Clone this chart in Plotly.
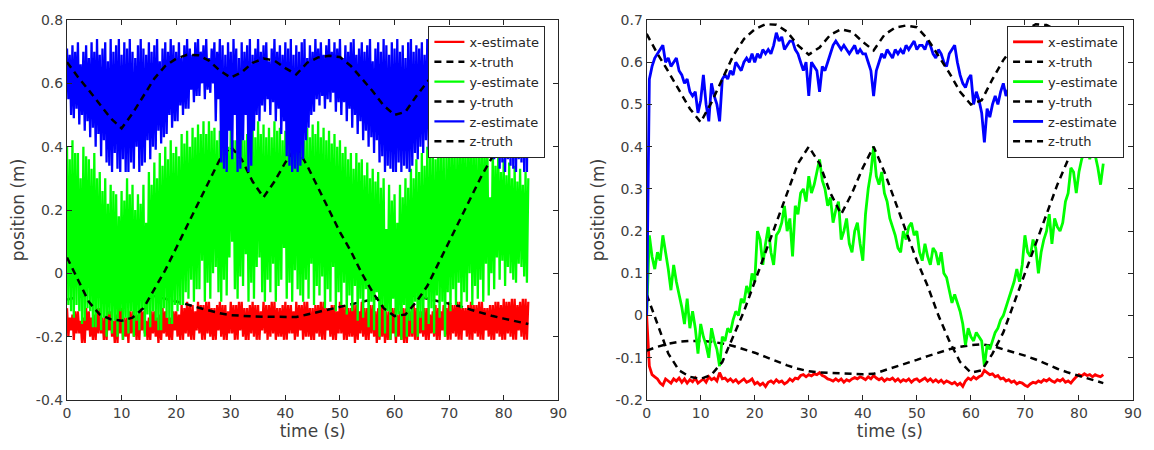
import plotly.graph_objects as go

# ---------------- data ----------------
# left panel estimates: peaks (at t = 0, 0.5, ..., 84.5 s) and troughs (at t = 0.25, 0.75, ..., 84.25 s)
noisy_step = 0.25
est_step = 0.5
n_est = 170

# truth sample times (s)
truth_t = list(range(0, 85, 2)) + [84.5]

x_truth = [-0.083, -0.074, -0.067, -0.062, -0.060, -0.060, -0.062, -0.066, -0.072, -0.080,
           -0.088, -0.098, -0.108, -0.118, -0.126, -0.132, -0.135, -0.136, -0.137, -0.138,
           -0.139, -0.138, -0.130, -0.122, -0.113, -0.105, -0.096, -0.088, -0.080, -0.074,
           -0.070, -0.068, -0.072, -0.080, -0.087, -0.095, -0.104, -0.115, -0.126, -0.135,
           -0.143, -0.150, -0.158, -0.160]
y_truth = [0.05, -0.02, -0.09, -0.13, -0.145, -0.15, -0.14, -0.11, -0.05, 0.01,
           0.08, 0.15, 0.22, 0.29, 0.36, 0.40, 0.36, 0.29, 0.24, 0.29,
           0.35, 0.40, 0.34, 0.27, 0.20, 0.13, 0.07, 0.00, -0.06, -0.11,
           -0.135, -0.13, -0.09, -0.04, 0.03, 0.10, 0.17, 0.24, 0.31, 0.37,
           0.42, 0.46, 0.49, 0.50]
z_truth = [0.667, 0.62, 0.578, 0.535, 0.49, 0.458, 0.505, 0.56, 0.615, 0.655,
           0.678, 0.69, 0.689, 0.672, 0.64, 0.618, 0.635, 0.665, 0.678, 0.672,
           0.648, 0.628, 0.665, 0.682, 0.687, 0.683, 0.655, 0.615, 0.575, 0.53,
           0.50, 0.51, 0.56, 0.605, 0.64, 0.675, 0.69, 0.688, 0.675, 0.655,
           0.63, 0.61, 0.60, 0.60]

x_left_peaks = [
    -0.11, -0.14, -0.13, -0.12, -0.12, -0.15, -0.14, -0.11, -0.12, -0.14,
    -0.13, -0.11, -0.11, -0.14, -0.14, -0.12, -0.12, -0.15, -0.13, -0.11,
    -0.11, -0.14, -0.14, -0.12, -0.12, -0.13, -0.13, -0.11, -0.12, -0.15,
    -0.14, -0.12, -0.12, -0.14, -0.13, -0.11, -0.12, -0.14, -0.14, -0.12,
    -0.12, -0.13, -0.10, -0.11, -0.09, -0.10, -0.10, -0.12, -0.09, -0.10,
    -0.10, -0.09, -0.09, -0.11, -0.11, -0.10, -0.09, -0.10, -0.10, -0.12,
    -0.09, -0.10, -0.10, -0.09, -0.09, -0.11, -0.11, -0.10, -0.09, -0.10,
    -0.10, -0.12, -0.09, -0.10, -0.10, -0.09, -0.09, -0.11, -0.11, -0.10,
    -0.09, -0.10, -0.10, -0.12, -0.09, -0.10, -0.10, -0.09, -0.09, -0.11,
    -0.11, -0.10, -0.10, -0.09, -0.09, -0.11, -0.11, -0.10, -0.10, -0.12,
    -0.09, -0.10, -0.10, -0.11, -0.11, -0.10, -0.10, -0.12, -0.09, -0.11,
    -0.11, -0.10, -0.10, -0.12, -0.11, -0.10, -0.10, -0.12, -0.12, -0.11,
    -0.11, -0.13, -0.12, -0.11, -0.11, -0.12, -0.12, -0.10, -0.11, -0.12,
    -0.12, -0.11, -0.11, -0.13, -0.12, -0.10, -0.11, -0.12, -0.10, -0.11,
    -0.09, -0.10, -0.10, -0.09, -0.09, -0.11, -0.11, -0.10, -0.09, -0.10,
    -0.10, -0.09, -0.09, -0.11, -0.11, -0.10, -0.10, -0.09, -0.09, -0.10,
    -0.08, -0.09, -0.09, -0.08, -0.08, -0.10, -0.09, -0.08, -0.08, -0.09]
x_left_troughs = [
    -0.20, -0.18, -0.21, -0.19, -0.19, -0.22, -0.22, -0.18, -0.20, -0.21,
    -0.21, -0.19, -0.19, -0.21, -0.21, -0.18, -0.20, -0.22, -0.22, -0.19,
    -0.21, -0.20, -0.22, -0.19, -0.20, -0.21, -0.21, -0.18, -0.19, -0.21,
    -0.21, -0.19, -0.20, -0.22, -0.21, -0.19, -0.20, -0.21, -0.21, -0.18,
    -0.20, -0.21, -0.21, -0.19, -0.20, -0.21, -0.21, -0.18, -0.19, -0.21,
    -0.21, -0.19, -0.20, -0.21, -0.21, -0.18, -0.20, -0.21, -0.21, -0.19,
    -0.19, -0.21, -0.21, -0.18, -0.20, -0.21, -0.21, -0.19, -0.20, -0.21,
    -0.21, -0.18, -0.19, -0.21, -0.20, -0.19, -0.21, -0.20, -0.20, -0.21,
    -0.21, -0.19, -0.19, -0.21, -0.20, -0.18, -0.21, -0.20, -0.20, -0.21,
    -0.21, -0.19, -0.20, -0.21, -0.21, -0.18, -0.20, -0.21, -0.21, -0.19,
    -0.19, -0.21, -0.21, -0.20, -0.20, -0.22, -0.21, -0.19, -0.20, -0.21,
    -0.21, -0.19, -0.20, -0.22, -0.21, -0.20, -0.22, -0.21, -0.21, -0.19,
    -0.22, -0.20, -0.21, -0.22, -0.22, -0.20, -0.20, -0.21, -0.21, -0.19,
    -0.20, -0.21, -0.21, -0.19, -0.20, -0.21, -0.21, -0.18, -0.20, -0.21,
    -0.21, -0.19, -0.20, -0.21, -0.21, -0.18, -0.20, -0.21, -0.21, -0.19,
    -0.20, -0.21, -0.21, -0.18, -0.20, -0.21, -0.21, -0.19, -0.20, -0.21,
    -0.21, -0.19, -0.20, -0.21, -0.21, -0.18, -0.20, -0.21, -0.21]

y_left_peaks = [
    0.40, 0.36, 0.42, 0.38, 0.38, 0.30, 0.40, 0.37, 0.36, 0.33,
    0.38, 0.30, 0.32, 0.26, 0.30, 0.22, 0.28, 0.26, 0.25, 0.18,
    0.26, 0.23, 0.30, 0.25, 0.28, 0.20, 0.25, 0.22, 0.28, 0.16,
    0.32, 0.28, 0.35, 0.30, 0.38, 0.34, 0.40, 0.36, 0.42, 0.38,
    0.40, 0.37, 0.44, 0.41, 0.45, 0.40, 0.46, 0.43, 0.47, 0.44,
    0.48, 0.44, 0.48, 0.45, 0.46, 0.42, 0.45, 0.43, 0.44, 0.40,
    0.46, 0.42, 0.42, 0.39, 0.45, 0.42, 0.44, 0.41, 0.47, 0.43,
    0.48, 0.44, 0.47, 0.43, 0.46, 0.43, 0.48, 0.45, 0.46, 0.42,
    0.45, 0.41, 0.44, 0.40, 0.46, 0.42, 0.45, 0.42, 0.46, 0.43,
    0.47, 0.44, 0.48, 0.43, 0.46, 0.42, 0.45, 0.41, 0.44, 0.40,
    0.42, 0.38, 0.40, 0.36, 0.38, 0.33, 0.38, 0.35, 0.36, 0.31,
    0.35, 0.30, 0.33, 0.29, 0.32, 0.27, 0.30, 0.14, 0.28, 0.23,
    0.25, 0.16, 0.28, 0.24, 0.30, 0.27, 0.33, 0.30, 0.36, 0.32,
    0.38, 0.34, 0.40, 0.37, 0.40, 0.36, 0.42, 0.39, 0.40, 0.37,
    0.43, 0.40, 0.42, 0.38, 0.44, 0.41, 0.43, 0.39, 0.44, 0.40,
    0.42, 0.38, 0.44, 0.40, 0.42, 0.24, 0.40, 0.34, 0.38, 0.32,
    0.36, 0.31, 0.35, 0.30, 0.34, 0.29, 0.33, 0.28, 0.32, 0.30]
y_left_troughs = [
    -0.10, -0.12, -0.14, -0.10, -0.12, -0.16, -0.15, -0.11, -0.12, -0.17,
    -0.17, -0.12, -0.18, -0.14, -0.20, -0.13, -0.19, -0.15, -0.20, -0.12,
    -0.21, -0.14, -0.19, -0.12, -0.20, -0.15, -0.18, -0.11, -0.20, -0.13,
    -0.17, -0.12, -0.15, -0.18, -0.18, -0.11, -0.14, -0.16, -0.16, -0.10,
    -0.12, -0.10, -0.10, -0.06, -0.08, -0.02, -0.09, -0.05, -0.05, 0.04,
    -0.09, -0.03, -0.08, 0.00, 0.02, -0.06, -0.09, -0.02, -0.07, 0.05,
    0.10, -0.05, -0.08, -0.01, -0.04, 0.06, -0.09, -0.03, -0.08, 0.02,
    0.05, -0.06, -0.09, -0.02, -0.06, 0.03, -0.09, -0.04, -0.02, 0.08,
    -0.08, -0.03, -0.09, 0.01, -0.05, -0.07, -0.09, -0.02, -0.08, 0.03,
    -0.10, -0.04, -0.07, -0.01, -0.11, -0.05, -0.09, 0.02, -0.12, -0.06,
    -0.10, -0.03, -0.13, -0.07, -0.12, -0.04, -0.15, -0.08, -0.14, -0.05,
    -0.17, -0.09, -0.18, -0.06, -0.20, -0.10, -0.19, -0.12, -0.21, -0.08,
    -0.20, -0.13, -0.21, -0.10, -0.20, -0.15, -0.19, -0.09, -0.20, -0.14,
    -0.18, -0.08, -0.16, -0.11, -0.19, -0.07, -0.14, -0.09, -0.20, -0.06,
    -0.12, -0.05, -0.10, -0.03, -0.11, -0.06, -0.09, 0.00, -0.10, -0.04,
    -0.08, -0.02, -0.09, 0.03, -0.07, 0.00, -0.05, 0.05, -0.02, 0.04,
    -0.04, 0.02, 0.00, -0.02, -0.03, 0.03, 0.02, -0.01, -0.03]

z_left_peaks = [
    0.71, 0.69, 0.72, 0.70, 0.73, 0.66, 0.70, 0.72, 0.68, 0.73,
    0.70, 0.74, 0.69, 0.71, 0.73, 0.67, 0.74, 0.70, 0.72, 0.74,
    0.69, 0.73, 0.71, 0.74, 0.70, 0.68, 0.72, 0.74, 0.71, 0.69,
    0.73, 0.70, 0.72, 0.74, 0.67, 0.71, 0.73, 0.70, 0.74, 0.72,
    0.70, 0.73, 0.68, 0.72, 0.74, 0.71, 0.69, 0.73, 0.74, 0.70,
    0.72, 0.74, 0.68, 0.71, 0.73, 0.70, 0.74, 0.72, 0.69, 0.73,
    0.70, 0.74, 0.71, 0.68, 0.73, 0.70, 0.72, 0.74, 0.69, 0.71,
    0.74, 0.70, 0.72, 0.73, 0.67, 0.71, 0.74, 0.70, 0.72, 0.69,
    0.73, 0.71, 0.74, 0.69, 0.72, 0.70, 0.73, 0.74, 0.68, 0.72,
    0.70, 0.74, 0.71, 0.73, 0.69, 0.72, 0.74, 0.70, 0.73, 0.71,
    0.74, 0.68, 0.72, 0.70, 0.73, 0.74, 0.69, 0.71, 0.73, 0.70,
    0.72, 0.74, 0.67, 0.71, 0.73, 0.70, 0.74, 0.72, 0.69, 0.73,
    0.71, 0.74, 0.70, 0.72, 0.68, 0.73, 0.74, 0.70, 0.72, 0.71,
    0.73, 0.69, 0.74, 0.71, 0.72, 0.70, 0.73, 0.74, 0.68, 0.72,
    0.70, 0.74, 0.72, 0.69, 0.73, 0.71, 0.74, 0.70, 0.72, 0.73,
    0.69, 0.72, 0.74, 0.70, 0.71, 0.73, 0.68, 0.72, 0.74, 0.70,
    0.73, 0.71, 0.69, 0.74, 0.72, 0.70, 0.73, 0.71, 0.74, 0.72]
z_left_troughs = [
    0.55, 0.50, 0.49, 0.52, 0.47, 0.50, 0.45, 0.48, 0.43, 0.46,
    0.40, 0.44, 0.37, 0.42, 0.35, 0.34, 0.32, 0.38, 0.33, 0.32,
    0.36, 0.32, 0.32, 0.35, 0.33, 0.40, 0.32, 0.34, 0.35, 0.42,
    0.36, 0.40, 0.39, 0.45, 0.41, 0.43, 0.44, 0.50, 0.46, 0.48,
    0.48, 0.53, 0.50, 0.52, 0.52, 0.58, 0.54, 0.56, 0.56, 0.60,
    0.55, 0.58, 0.57, 0.60, 0.48, 0.55, 0.35, 0.33, 0.32, 0.45,
    0.36, 0.50, 0.32, 0.33, 0.42, 0.50, 0.32, 0.34, 0.45, 0.50,
    0.48, 0.53, 0.51, 0.55, 0.50, 0.54, 0.48, 0.52, 0.44, 0.48,
    0.37, 0.34, 0.32, 0.33, 0.32, 0.34, 0.36, 0.42, 0.46, 0.50,
    0.51, 0.55, 0.53, 0.56, 0.52, 0.55, 0.54, 0.57, 0.51, 0.54,
    0.50, 0.54, 0.48, 0.52, 0.46, 0.50, 0.44, 0.48, 0.42, 0.45,
    0.40, 0.43, 0.38, 0.42, 0.35, 0.37, 0.32, 0.34, 0.33, 0.32,
    0.32, 0.35, 0.32, 0.34, 0.33, 0.32, 0.34, 0.38, 0.36, 0.40,
    0.38, 0.42, 0.39, 0.43, 0.41, 0.45, 0.42, 0.46, 0.44, 0.48,
    0.45, 0.50, 0.47, 0.50, 0.48, 0.52, 0.47, 0.51, 0.48, 0.50,
    0.46, 0.50, 0.43, 0.47, 0.40, 0.44, 0.36, 0.40, 0.33, 0.35,
    0.32, 0.36, 0.34, 0.33, 0.32, 0.36, 0.35, 0.32, 0.32]

# right panel: filtered estimates (0.5 s samples)
x_est_right = [
    0.0, -0.12, -0.14, -0.145, -0.15, -0.16, -0.165, -0.15, -0.155, -0.16,
    -0.15, -0.155, -0.148, -0.158, -0.15, -0.16, -0.152, -0.157, -0.148, -0.16,
    -0.155, -0.15, -0.158, -0.145, -0.152, -0.148, -0.155, -0.135, -0.15, -0.148,
    -0.155, -0.15, -0.157, -0.152, -0.16, -0.155, -0.15, -0.158, -0.155, -0.15,
    -0.162, -0.158, -0.165, -0.16, -0.168, -0.158, -0.155, -0.16, -0.152, -0.158,
    -0.155, -0.162, -0.158, -0.15, -0.155, -0.148, -0.15, -0.142, -0.14, -0.145,
    -0.14, -0.143, -0.138, -0.14, -0.135, -0.142, -0.145, -0.15, -0.152, -0.155,
    -0.15, -0.155, -0.15, -0.158, -0.152, -0.155, -0.15, -0.147, -0.15, -0.145,
    -0.148, -0.152, -0.145, -0.15, -0.142, -0.148, -0.152, -0.148, -0.155, -0.15,
    -0.152, -0.148, -0.155, -0.15, -0.157, -0.152, -0.155, -0.15, -0.158, -0.152,
    -0.15, -0.156, -0.152, -0.148, -0.155, -0.15, -0.157, -0.152, -0.158, -0.153,
    -0.16, -0.155, -0.158, -0.162, -0.158, -0.165, -0.16, -0.168, -0.155, -0.148,
    -0.152, -0.145, -0.15, -0.145, -0.142, -0.13, -0.135, -0.14, -0.138, -0.145,
    -0.142, -0.15, -0.148, -0.155, -0.152, -0.158, -0.155, -0.162, -0.158, -0.16,
    -0.165, -0.168, -0.162, -0.158, -0.16, -0.155, -0.158, -0.152, -0.155, -0.15,
    -0.155, -0.158, -0.152, -0.155, -0.15, -0.158, -0.155, -0.16, -0.152, -0.145,
    -0.14, -0.143, -0.138, -0.142, -0.14, -0.145, -0.14, -0.143, -0.145, -0.14]
y_est_right = [
    0.0, 0.19, 0.14, 0.11, 0.15, 0.13, 0.19, 0.15, 0.11, 0.06,
    0.12, 0.08, 0.05, 0.02, -0.02, 0.04, -0.03, 0.01, -0.03, -0.09,
    -0.02, -0.05, -0.07, -0.10, -0.03, -0.06, -0.08, -0.12, -0.05, -0.06,
    -0.03, -0.04, -0.01, 0.01, 0.00, 0.04, 0.03, 0.07, 0.05, 0.10,
    0.08, 0.20, 0.18, 0.12, 0.17, 0.21, 0.15, 0.12, 0.19, 0.20,
    0.22, 0.26, 0.20, 0.23, 0.14, 0.26, 0.24, 0.29, 0.30, 0.27,
    0.33, 0.29, 0.31, 0.34, 0.37, 0.32, 0.30, 0.26, 0.28, 0.22,
    0.25, 0.27, 0.18, 0.20, 0.23, 0.17, 0.15, 0.20, 0.22, 0.17,
    0.13, 0.24, 0.30, 0.34, 0.40, 0.33, 0.31, 0.34, 0.29, 0.27,
    0.23, 0.21, 0.19, 0.16, 0.15, 0.20, 0.18, 0.21, 0.22, 0.19,
    0.20, 0.15, 0.13, 0.17, 0.14, 0.12, 0.16, 0.15, 0.12, 0.15,
    0.10, 0.09, 0.06, 0.03, 0.05, 0.03, 0.01, -0.02, -0.07, -0.03,
    -0.05, -0.06, -0.04, -0.05, -0.06, -0.12, -0.07, -0.08, -0.06, -0.04,
    -0.03, -0.01, 0.00, 0.02, 0.04, 0.06, 0.08, 0.11, 0.08, 0.12,
    0.19, 0.15, 0.14, 0.18, 0.16, 0.10, 0.15, 0.18, 0.20, 0.24,
    0.17, 0.23, 0.21, 0.20, 0.22, 0.27, 0.29, 0.35, 0.34, 0.29,
    0.34, 0.37, 0.39, 0.42, 0.37, 0.41, 0.38, 0.35, 0.31, 0.36]
z_est_right = [
    0.0, 0.56, 0.59, 0.61, 0.62, 0.63, 0.64, 0.60, 0.61, 0.59,
    0.60, 0.61, 0.58, 0.57, 0.55, 0.56, 0.53, 0.52, 0.53, 0.48,
    0.51, 0.57, 0.50, 0.46, 0.55, 0.52, 0.50, 0.46, 0.56, 0.57,
    0.56, 0.58, 0.57, 0.60, 0.59, 0.58, 0.60, 0.61, 0.60, 0.62,
    0.60, 0.62, 0.61, 0.63, 0.62, 0.63, 0.62, 0.64, 0.67, 0.65,
    0.66, 0.63, 0.64, 0.65, 0.65, 0.63, 0.62, 0.60, 0.58, 0.60,
    0.52, 0.60, 0.59, 0.58, 0.53, 0.59, 0.58, 0.60, 0.62, 0.64,
    0.65, 0.64, 0.63, 0.64, 0.63, 0.62, 0.63, 0.64, 0.62, 0.63,
    0.62, 0.62, 0.60, 0.58, 0.52, 0.58, 0.60, 0.62, 0.61, 0.63,
    0.62, 0.61, 0.63, 0.62, 0.63, 0.62, 0.64, 0.63, 0.64, 0.65,
    0.63, 0.64, 0.64, 0.63, 0.65, 0.64, 0.62, 0.61, 0.63, 0.62,
    0.60, 0.59, 0.62, 0.63, 0.64, 0.60, 0.57, 0.55, 0.54, 0.56,
    0.57, 0.50, 0.53, 0.51, 0.48, 0.41, 0.49, 0.47, 0.50, 0.52,
    0.50, 0.53, 0.55, 0.52, 0.54, 0.56, 0.55, 0.57, 0.56, 0.58,
    0.57, 0.59, 0.58, 0.60, 0.59, 0.61, 0.60, 0.59, 0.61, 0.60,
    0.59, 0.58, 0.60, 0.59, 0.58, 0.59, 0.57, 0.58, 0.56, 0.57,
    0.55, 0.56, 0.54, 0.55, 0.54, 0.53, 0.55, 0.54, 0.53, 0.54]

x_ticks = [0, 10, 20, 30, 40, 50, 60, 70, 80, 90]
left_yticks = [-0.4, -0.2, 0, 0.2, 0.4, 0.6, 0.8]
left_yticktext = ["-0.4", "-0.2", "0", "0.2", "0.4", "0.6", "0.8"]
right_yticks = [-0.2, -0.1, 0, 0.1, 0.2, 0.3, 0.4, 0.5, 0.6, 0.7]
right_yticktext = ["-0.2", "-0.1", "0", "0.1", "0.2", "0.3", "0.4", "0.5", "0.6", "0.7"]


def interleave(peaks, troughs):
    out = []
    for i, p in enumerate(peaks):
        out.append(p)
        if i < len(troughs):
            out.append(troughs[i])
    return out


x_est_left = interleave(x_left_peaks, x_left_troughs)
y_est_left = interleave(y_left_peaks, y_left_troughs)
z_est_left = interleave(z_left_peaks, z_left_troughs)
t_left = [i * noisy_step for i in range(len(x_est_left))]
t_right = [i * est_step for i in range(n_est)]

# ---------------- figure ----------------
RED, GREEN, BLUE, BLACK = "#ff0000", "#00ff00", "#0000ff", "#000000"
DASH = "7px,5px"

fig = go.Figure()


def add_panel(xa, ya, leg, te, xe, ye, ze, est_w):
    common = dict(mode="lines", xaxis=xa, yaxis=ya, legend=leg)
    fig.add_trace(go.Scatter(x=te, y=xe, name="x-estimate",
                             line=dict(color=RED, width=est_w, simplify=False), **common))
    fig.add_trace(go.Scatter(x=truth_t, y=x_truth, name="x-truth",
                             line=dict(color=BLACK, width=2.5, dash=DASH), **common))
    fig.add_trace(go.Scatter(x=te, y=ye, name="y-estimate",
                             line=dict(color=GREEN, width=est_w, simplify=False), **common))
    fig.add_trace(go.Scatter(x=truth_t, y=y_truth, name="y-truth",
                             line=dict(color=BLACK, width=2.5, dash=DASH), **common))
    fig.add_trace(go.Scatter(x=te, y=ze, name="z-estimate",
                             line=dict(color=BLUE, width=est_w, simplify=False), **common))
    fig.add_trace(go.Scatter(x=truth_t, y=z_truth, name="z-truth",
                             line=dict(color=BLACK, width=2.5, dash=DASH), **common))


add_panel("x", "y", "legend", t_left, x_est_left, y_est_left, z_est_left, 2.3)
add_panel("x2", "y2", "legend2", t_right, x_est_right, y_est_right, z_est_right, 2.8)

FONT = "DejaVu Sans"
TXT = "#262626"
LBL = "#404040"
axis_common = dict(showline=True, linecolor=TXT, linewidth=1, mirror="ticks",
                   ticks="inside", ticklen=5, tickwidth=1, tickcolor=TXT,
                   showgrid=False, zeroline=False,
                   tickfont=dict(family=FONT, size=14, color=LBL))

W, H = 1154, 450
ml, mr, mt, mb = 67, 13, 12, 50
pw = W - ml - mr
ph = H - mt - mb
left_dom = [0, (562 - ml) / pw]
right_dom = [(651 - ml) / pw, 1]

xtitle = dict(text="time (s)", font=dict(size=17, color=LBL), standoff=4)
ytitle = dict(text="position (m)", font=dict(size=17, color=LBL), standoff=6)
legend_common = dict(xanchor="right", yanchor="top", y=1 - (18 - mt) / ph,
                     bgcolor="white", bordercolor=TXT, borderwidth=1, itemwidth=30,
                     font=dict(family=FONT, size=13, color=TXT), tracegroupgap=0)

fig.update_layout(
    width=W, height=H,
    margin=dict(l=ml, r=mr, t=mt, b=mb),
    paper_bgcolor="white", plot_bgcolor="white",
    font=dict(family=FONT, size=14, color=TXT),
    xaxis=dict(domain=left_dom, range=[0, 90], tickvals=x_ticks, anchor="y",
               title=xtitle, **axis_common),
    yaxis=dict(domain=[0, 1], range=[-0.4, 0.8], tickvals=left_yticks, ticktext=left_yticktext,
               anchor="x", title=ytitle, **axis_common),
    xaxis2=dict(domain=right_dom, range=[0, 90], tickvals=x_ticks, anchor="y2",
                title=xtitle, **axis_common),
    yaxis2=dict(domain=[0, 1], range=[-0.2, 0.7], tickvals=right_yticks, ticktext=right_yticktext,
                anchor="x2", title=ytitle, **axis_common),
    legend=dict(x=(549 - ml) / pw, **legend_common),
    legend2=dict(x=(1132 - ml) / pw, **legend_common),
    showlegend=True,
)

fig.write_html("out.html", config={"displayModeBar": False},
               post_script="document.body.style.margin='0';")
